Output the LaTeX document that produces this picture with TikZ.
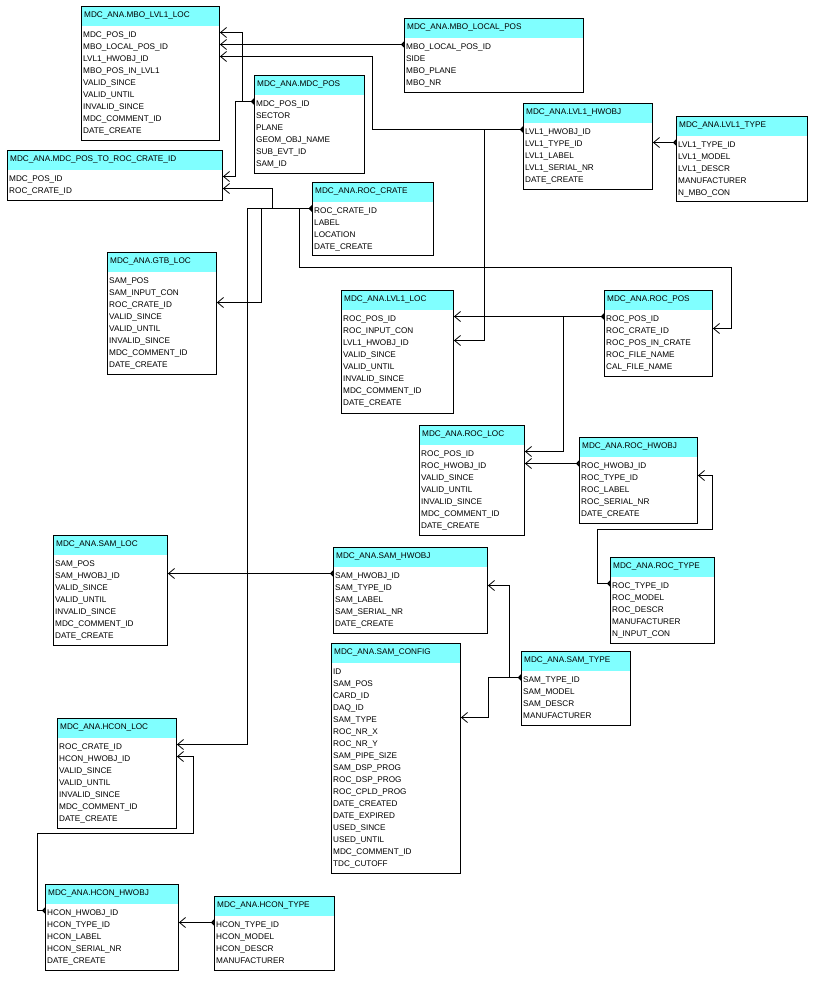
\documentclass[tikz,border=0pt]{standalone}
\usepackage{fontspec}
\setmainfont{Liberation Sans}
\usetikzlibrary{arrows.meta}
\definecolor{hdrcol}{RGB}{128,255,255}

\begin{document}
\begin{tikzpicture}[x=1pt,y=-1pt]
\tikzstyle{tbl}=[draw,line width=0.9pt,anchor=north west,inner sep=0pt]
\tikzstyle{ttl}=[anchor=base west,inner sep=0pt,font=\fontsize{8.2}{9}\selectfont]
\tikzstyle{fld}=[anchor=west,inner xsep=2pt,inner ysep=0pt,text height=10pt,text depth=0pt,font=\fontsize{8.2}{9}\selectfont]
\tikzstyle{rel}=[draw,line width=0.8pt,{Triangle[reversed,length=3pt,width=6pt]}-{Straight Barb[length=6pt,width=10pt]}]
\useasboundingbox (0,0) rectangle (832,993);

% tables: name/left/top/width/height/title/fields
\foreach \n/\x/\y/\w/\h/\tname/\rows in {
  mbo/81/6/138/134/MBO\_LVL1\_LOC/{MDC\_POS\_ID,MBO\_LOCAL\_POS\_ID,LVL1\_HWOBJ\_ID,MBO\_POS\_IN\_LVL1,VALID\_SINCE,VALID\_UNTIL,INVALID\_SINCE,MDC\_COMMENT\_ID,DATE\_CREATE},
  lpos/404/18/179/74/MBO\_LOCAL\_POS/{MBO\_LOCAL\_POS\_ID,SIDE,MBO\_PLANE,MBO\_NR},
  pos/254/75/110/98/MDC\_POS/{MDC\_POS\_ID,SECTOR,PLANE,GEOM\_OBJ\_NAME,SUB\_EVT\_ID,SAM\_ID},
  p2c/7/150/215/50/MDC\_POS\_TO\_ROC\_CRATE\_ID/{MDC\_POS\_ID,ROC\_CRATE\_ID},
  crate/312/182/121/73/ROC\_CRATE/{ROC\_CRATE\_ID,LABEL,LOCATION,DATE\_CREATE},
  gtb/107/252/109/122/GTB\_LOC/{SAM\_POS,SAM\_INPUT\_CON,ROC\_CRATE\_ID,VALID\_SINCE,VALID\_UNTIL,INVALID\_SINCE,MDC\_COMMENT\_ID,DATE\_CREATE},
  hw1/523/103/129/86/LVL1\_HWOBJ/{LVL1\_HWOBJ\_ID,LVL1\_TYPE\_ID,LVL1\_LABEL,LVL1\_SERIAL\_NR,DATE\_CREATE},
  typ1/676/116/131/85/LVL1\_TYPE/{LVL1\_TYPE\_ID,LVL1\_MODEL,LVL1\_DESCR,MANUFACTURER,N\_MBO\_CON},
  loc1/341/290/112/123/LVL1\_LOC/{ROC\_POS\_ID,ROC\_INPUT\_CON,LVL1\_HWOBJ\_ID,VALID\_SINCE,VALID\_UNTIL,INVALID\_SINCE,MDC\_COMMENT\_ID,DATE\_CREATE},
  rpos/604/290/108/86/ROC\_POS/{ROC\_POS\_ID,ROC\_CRATE\_ID,ROC\_POS\_IN\_CRATE,ROC\_FILE\_NAME,CAL\_FILE\_NAME},
  rloc/419/425/105/110/ROC\_LOC/{ROC\_POS\_ID,ROC\_HWOBJ\_ID,VALID\_SINCE,VALID\_UNTIL,INVALID\_SINCE,MDC\_COMMENT\_ID,DATE\_CREATE},
  rhw/579/437/118/86/ROC\_HWOBJ/{ROC\_HWOBJ\_ID,ROC\_TYPE\_ID,ROC\_LABEL,ROC\_SERIAL\_NR,DATE\_CREATE},
  rtyp/610/557/104/86/ROC\_TYPE/{ROC\_TYPE\_ID,ROC\_MODEL,ROC\_DESCR,MANUFACTURER,N\_INPUT\_CON},
  sloc/53/535/114/110/SAM\_LOC/{SAM\_POS,SAM\_HWOBJ\_ID,VALID\_SINCE,VALID\_UNTIL,INVALID\_SINCE,MDC\_COMMENT\_ID,DATE\_CREATE},
  shw/333/547/154/86/SAM\_HWOBJ/{SAM\_HWOBJ\_ID,SAM\_TYPE\_ID,SAM\_LABEL,SAM\_SERIAL\_NR,DATE\_CREATE},
  scfg/331/643/129/230/SAM\_CONFIG/{ID,SAM\_POS,CARD\_ID,DAQ\_ID,SAM\_TYPE,ROC\_NR\_X,ROC\_NR\_Y,SAM\_PIPE\_SIZE,SAM\_DSP\_PROG,ROC\_DSP\_PROG,ROC\_CPLD\_PROG,DATE\_CREATED,DATE\_EXPIRED,USED\_SINCE,USED\_UNTIL,MDC\_COMMENT\_ID,TDC\_CUTOFF},
  styp/521/651/109/74/SAM\_TYPE/{SAM\_TYPE\_ID,SAM\_MODEL,SAM\_DESCR,MANUFACTURER},
  hloc/57/718/119/110/HCON\_LOC/{ROC\_CRATE\_ID,HCON\_HWOBJ\_ID,VALID\_SINCE,VALID\_UNTIL,INVALID\_SINCE,MDC\_COMMENT\_ID,DATE\_CREATE},
  hhw/45/884/133/86/HCON\_HWOBJ/{HCON\_HWOBJ\_ID,HCON\_TYPE\_ID,HCON\_LABEL,HCON\_SERIAL\_NR,DATE\_CREATE},
  htyp/214/896/120/74/HCON\_TYPE/{HCON\_TYPE\_ID,HCON\_MODEL,HCON\_DESCR,MANUFACTURER}%
}{
  \fill[hdrcol] (\x,\y) rectangle ++(\w,20);
  \node[tbl,minimum width=\w,minimum height=\h] (\n) at (\x,\y) {};
  \node[ttl] (\n-t) at ({\x+3},{\y+11}) {MDC\_ANA.\tname};
  \foreach \r [count=\i] in \rows
    \node[fld] (\n-\i) at (\x,{\y+14.5+12*\i}) {\r};
}

% straight links
\foreach \a/\i/\b in {lpos/1/mbo,typ1/1/hw1,rpos/1/loc1,rhw/1/rloc,shw/1/sloc,htyp/1/hhw}
  \draw[rel] (\a.west|-\a-\i) -- (\b.east|-\a-\i);

% bent links
\draw[rel] (pos.west|-pos-1) -- ++(-12,0) |- (mbo.east|-mbo-1);
\draw[rel] (pos.west|-pos-1) -- ++(-19,0) |- (p2c.east|-p2c-1);
\draw[rel] (hw1.west|-hw1-1) -- ++(-151,0) |- (mbo.east|-mbo-3);
\draw[rel] (hw1.west|-hw1-1) -- ++(-39,0) |- (loc1.east|-loc1-3);
\draw[rel] (crate.west|-crate-1) -- ++(-40,0) |- (p2c.east|-p2c-2);
\draw[rel] (crate.west|-crate-1) -- ++(-51,0) |- (gtb.east|-gtb-3);
\draw[rel] (crate.west|-crate-1) -- ++(-65,0) |- (hloc.east|-hloc-1);
\draw[rel] (crate.west|-crate-1) -- ++(-13,0) |- ++(432,58.5) |- (rpos.east|-rpos-2);
\draw[rel] (rpos.west|-rpos-1) -- ++(-41,0) |- (rloc.east|-rloc-1);
\draw[rel] (rtyp.west|-rtyp-1) -- ++(-13,0) |- ++(115,-54.5) |- (rhw.east|-rhw-2);
\draw[rel] (styp.west|-styp-1) -- ++(-33,0) |- (scfg.east|-scfg-5);
\draw[rel] (styp.west|-styp-1) -- ++(-12,0) |- (shw.east|-shw-2);
\draw[rel] (hhw.west|-hhw-1) -- ++(-8,0) |- ++(156,-77.5) |- (hloc.east|-hloc-2);
\end{tikzpicture}
\end{document}
